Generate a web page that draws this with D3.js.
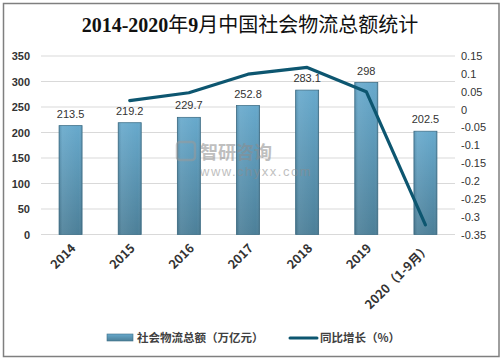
<!DOCTYPE html>
<html>
<head>
<meta charset="utf-8">
<script src="https://cdn.jsdelivr.net/npm/d3@7"></script>
<style>
  body { margin: 0; background: #fff; }
  svg { display: block; }
</style>
</head>
<body>
<div id="chart"></div>
<script>
var categories = ['2014', '2015', '2016', '2017', '2018', '2019', '2020（1-9月）'];
var totals = [213.5, 219.2, 229.7, 252.8, 283.1, 298, 202.5];
var growth = [null, 0.025, 0.047, 0.099, 0.118, 0.05, -0.323];
var leftTicks = [0, 50, 100, 150, 200, 250, 300, 350];
var rightTicks = [0.15, 0.1, 0.05, 0, -0.05, -0.1, -0.15, -0.2, -0.25, -0.3, -0.35];

var W = 502, H = 361;
var pleft = 41, pright = 455, ptop = 56, pbottom = 234.5;
var lcolor = '#0d5670';
var cjk = '"Noto Sans CJK SC", "Noto Sans", sans-serif';
var latin = '"Liberation Sans", Arial, sans-serif';

var svg = d3.select('#chart').append('svg')
  .attr('width', W).attr('height', H)
  .style('font-family', cjk);

// frame
svg.append('rect')
  .attr('x', 3.5).attr('y', 3.5)
  .attr('width', 495.5).attr('height', 353)
  .attr('fill', '#fff').attr('stroke', '#7f7f7f').attr('stroke-width', 1.5);

var defs = svg.append('defs');
var grad = defs.append('linearGradient').attr('id', 'bargrad')
  .attr('x1', 0).attr('y1', 0).attr('x2', 0).attr('y2', 1);
grad.append('stop').attr('offset', '0%').attr('stop-color', '#67a9cc');
grad.append('stop').attr('offset', '100%').attr('stop-color', '#4c7f98');
var sgrad = defs.append('linearGradient').attr('id', 'barside')
  .attr('x1', 0).attr('y1', 0).attr('x2', 1).attr('y2', 0);
sgrad.append('stop').attr('offset', '0%').attr('stop-color', '#000').attr('stop-opacity', 0.12);
sgrad.append('stop').attr('offset', '15%').attr('stop-color', '#fff').attr('stop-opacity', 0.08);
sgrad.append('stop').attr('offset', '85%').attr('stop-color', '#fff').attr('stop-opacity', 0);
sgrad.append('stop').attr('offset', '100%').attr('stop-color', '#000').attr('stop-opacity', 0.12);

// title
var title = svg.append('text')
  .attr('x', 250).attr('y', 32)
  .attr('text-anchor', 'middle')
  .attr('font-size', 20)
  .attr('fill', '#111');
title.append('tspan').style('font-family', '"Liberation Serif", "DejaVu Serif", serif').attr('font-weight', 'bold').text('2014-2020');
title.append('tspan').style('font-family', cjk).text('年');
title.append('tspan').style('font-family', '"Liberation Serif", serif').attr('font-weight', 'bold').text('9');
title.append('tspan').style('font-family', cjk).text('月中国社会物流总额统计');

var x = d3.scaleBand().domain(categories).range([pleft, pright]).paddingInner(0.6).paddingOuter(0.3);
var y = d3.scaleLinear().domain([0, 350]).range([pbottom, ptop]);
var y2 = d3.scaleLinear().domain([-0.35, 0.15]).range([pbottom, ptop]);

// grid
svg.append('g').selectAll('line').data(leftTicks).join('line')
  .attr('x1', pleft).attr('x2', pright)
  .attr('y1', d => y(d)).attr('y2', d => y(d))
  .attr('stroke', '#d9d9d9').attr('stroke-width', 1);

// left axis
var ya = svg.append('g').attr('transform', 'translate(' + (pleft - 11) + ',0)')
  .call(d3.axisLeft(y).tickValues(leftTicks).tickSize(0).tickPadding(0));
ya.select('.domain').remove();
ya.selectAll('text').attr('font-size', 11).attr('font-weight', 'bold').attr('fill', '#333')
  .style('font-family', latin);

// right axis
var yb = svg.append('g').attr('transform', 'translate(' + (pright + 6) + ',0)')
  .call(d3.axisRight(y2).tickValues(rightTicks).tickSize(0).tickPadding(0)
    .tickFormat(d => String(+d.toFixed(2))));
yb.select('.domain').remove();
yb.selectAll('text').attr('font-size', 11).attr('fill', '#333')
  .style('font-family', latin);

// bars
var bw = 23;
var bars = svg.append('g');
categories.forEach(function(c, i) {
  var cx = x(c) + x.bandwidth() / 2;
  bars.append('rect')
    .attr('x', cx - bw / 2).attr('y', y(totals[i]))
    .attr('width', bw).attr('height', y(0) - y(totals[i]))
    .attr('fill', 'url(#bargrad)')
    .attr('stroke', '#3d6f88').attr('stroke-width', 0.8);
  bars.append('rect')
    .attr('x', cx - bw / 2).attr('y', y(totals[i]))
    .attr('width', bw).attr('height', y(0) - y(totals[i]))
    .attr('fill', 'url(#barside)');
  bars.append('text')
    .attr('x', cx).attr('y', y(totals[i]) - 8)
    .attr('text-anchor', 'middle')
    .attr('font-size', 11).attr('fill', '#333')
    .style('font-family', latin)
    .text(totals[i]);
});

// watermark
var wm = svg.append('g').attr('opacity', 0.55);
wm.append('rect').attr('x', 177).attr('y', 142).attr('width', 18).attr('height', 18)
  .attr('rx', 3).attr('fill', 'none').attr('stroke', '#9a9a9a').attr('stroke-width', 2.5);
wm.append('text').attr('x', 200).attr('y', 159).attr('font-size', 18).attr('font-weight', 'bold')
  .attr('fill', '#8c8c8c').text('智研咨询');
wm.append('text').attr('x', 200).attr('y', 176).attr('font-size', 13)
  .attr('fill', '#8c8c8c').style('font-family', latin)
  .attr('letter-spacing', 1.5).text('www.chyxx.com');

// line
var pts = categories.map((c, i) => [x(c) + x.bandwidth() / 2, growth[i]]).filter(p => p[1] !== null);
svg.append('path')
  .datum(pts)
  .attr('d', d3.line().x(d => d[0]).y(d => y2(d[1])))
  .attr('fill', 'none')
  .attr('stroke', lcolor).attr('stroke-width', 3.2)
  .attr('stroke-linejoin', 'round').attr('stroke-linecap', 'round');

// x labels
svg.append('g').selectAll('text').data(categories).join('text')
  .attr('transform', d => 'translate(' + (x(d) + x.bandwidth() / 2 + 6) + ',' + 249 + ') rotate(-45)')
  .attr('text-anchor', 'end')
  .attr('font-size', 12.5).attr('font-weight', 'bold').attr('fill', '#333')
  .text(d => d);

// legend
var lg = svg.append('g');
lg.append('rect').attr('x', 107).attr('y', 334).attr('width', 26).attr('height', 7)
  .attr('fill', 'url(#bargrad)').attr('stroke', '#3d6f88').attr('stroke-width', 0.6);
lg.append('text').attr('x', 137).attr('y', 342).attr('font-size', 11.5).attr('font-weight', 'bold')
  .attr('fill', '#404040').text('社会物流总额（万亿元）');
lg.append('line').attr('x1', 290).attr('x2', 317).attr('y1', 338).attr('y2', 338)
  .attr('stroke', lcolor).attr('stroke-width', 3).attr('stroke-linecap', 'round');
lg.append('text').attr('x', 320).attr('y', 342).attr('font-size', 11.5).attr('font-weight', 'bold')
  .attr('fill', '#404040').text('同比增长（%）');
</script>
</body>
</html>
